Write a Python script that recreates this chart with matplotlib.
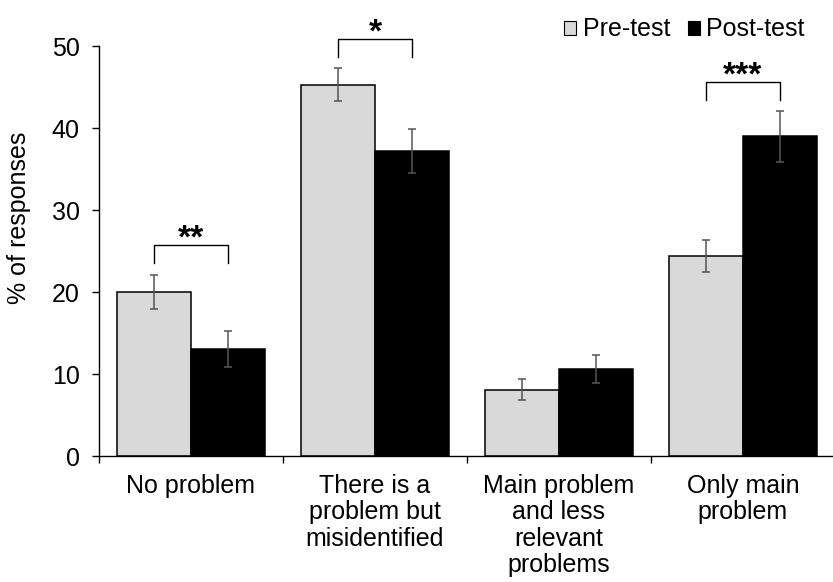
import numpy as np
import matplotlib
matplotlib.use("Agg")
import matplotlib.pyplot as plt
from matplotlib.patches import Patch

plt.rcParams['font.family'] = ['Liberation Sans', 'DejaVu Sans']

# Datos
categorias = ["No problem", "There is a\nproblem but\nmisidentified",
              "Main problem\nand less\nrelevant\nproblems", "Only main\nproblem"]
pre = [20.0, 45.3, 8.1, 24.4]
post = [13.0, 37.2, 10.6, 39.0]
err_pre = [2.1, 2.0, 1.3, 1.9]
err_post = [2.2, 2.7, 1.7, 3.1]

# Significancia: (indice de categoria, altura del corchete, estrellas)
sig_idx = [0, 1, 3]
sig_top = [25.7, 50.9, 45.6]
sig_txt = ["**", "*", "***"]

fig = plt.figure(figsize=(8.33, 5.82), dpi=100)
ax = fig.add_axes([99/833, 1-456/582, 736/833, 410/582])

x = np.arange(len(categorias))
w = 0.4
gris = "#d9d9d9"
ax.bar(x - w/2, pre, w, color=gris, edgecolor="black", linewidth=1.1, label="Pre-test")
ax.bar(x + w/2, post, w, color="black", edgecolor="black", linewidth=1.1, label="Post-test")
ax.errorbar(x - w/2, pre, yerr=err_pre, fmt="none", ecolor="#555555", elinewidth=1.1,
            capsize=3, capthick=1.1)
ax.errorbar(x + w/2, post, yerr=err_post, fmt="none", ecolor="#555555", elinewidth=1.1,
            capsize=3, capthick=1.1)

# Corchetes y estrellas
for i, top, s in zip(sig_idx, sig_top, sig_txt):
    x0, x1 = i - w/2, i + w/2
    ax.plot([x0, x0, x1, x1], [top - 2.2, top, top, top - 2.2], color="black",
            linewidth=1.0, clip_on=False)
    ax.text(i, top - 0.3, s, ha="center", va="baseline", fontsize=24,
            fontweight="bold", clip_on=False)

ax.set_xlim(-0.5, 3.5)
ax.set_ylim(0, 50)
ax.set_yticks([0, 10, 20, 30, 40, 50])
ax.tick_params(axis="y", labelsize=18, length=5, width=1.0, direction="out", pad=9)
ax.set_xticks(x)
ax.set_xticklabels(categorias, fontsize=18, linespacing=1.12)
ax.tick_params(axis="x", length=0, pad=13)
ax.set_xticks([-0.5, 0.5, 1.5, 2.5], minor=True)
ax.tick_params(axis="x", which="minor", length=5, width=1.0, direction="out")

for lado in ["top", "right"]:
    ax.spines[lado].set_visible(False)
ax.spines["left"].set_linewidth(1.0)
ax.spines["bottom"].set_linewidth(1.0)

ax.set_ylabel("% of responses", fontsize=18)
ax.yaxis.set_label_coords(-0.092, 0.58)

handles = [Patch(facecolor=gris, edgecolor="black", linewidth=0.8),
           Patch(facecolor="black", edgecolor="black", linewidth=0.8)]
fig.legend(handles, ["Pre-test", "Post-test"], loc="upper right", ncol=2,
           bbox_to_anchor=(0.987, 1.0), frameon=False, fontsize=18,
           handlelength=0.5, handleheight=0.5, handletextpad=0.25,
           columnspacing=0.7, borderpad=0.2)

fig.savefig("out.png", dpi=100)
